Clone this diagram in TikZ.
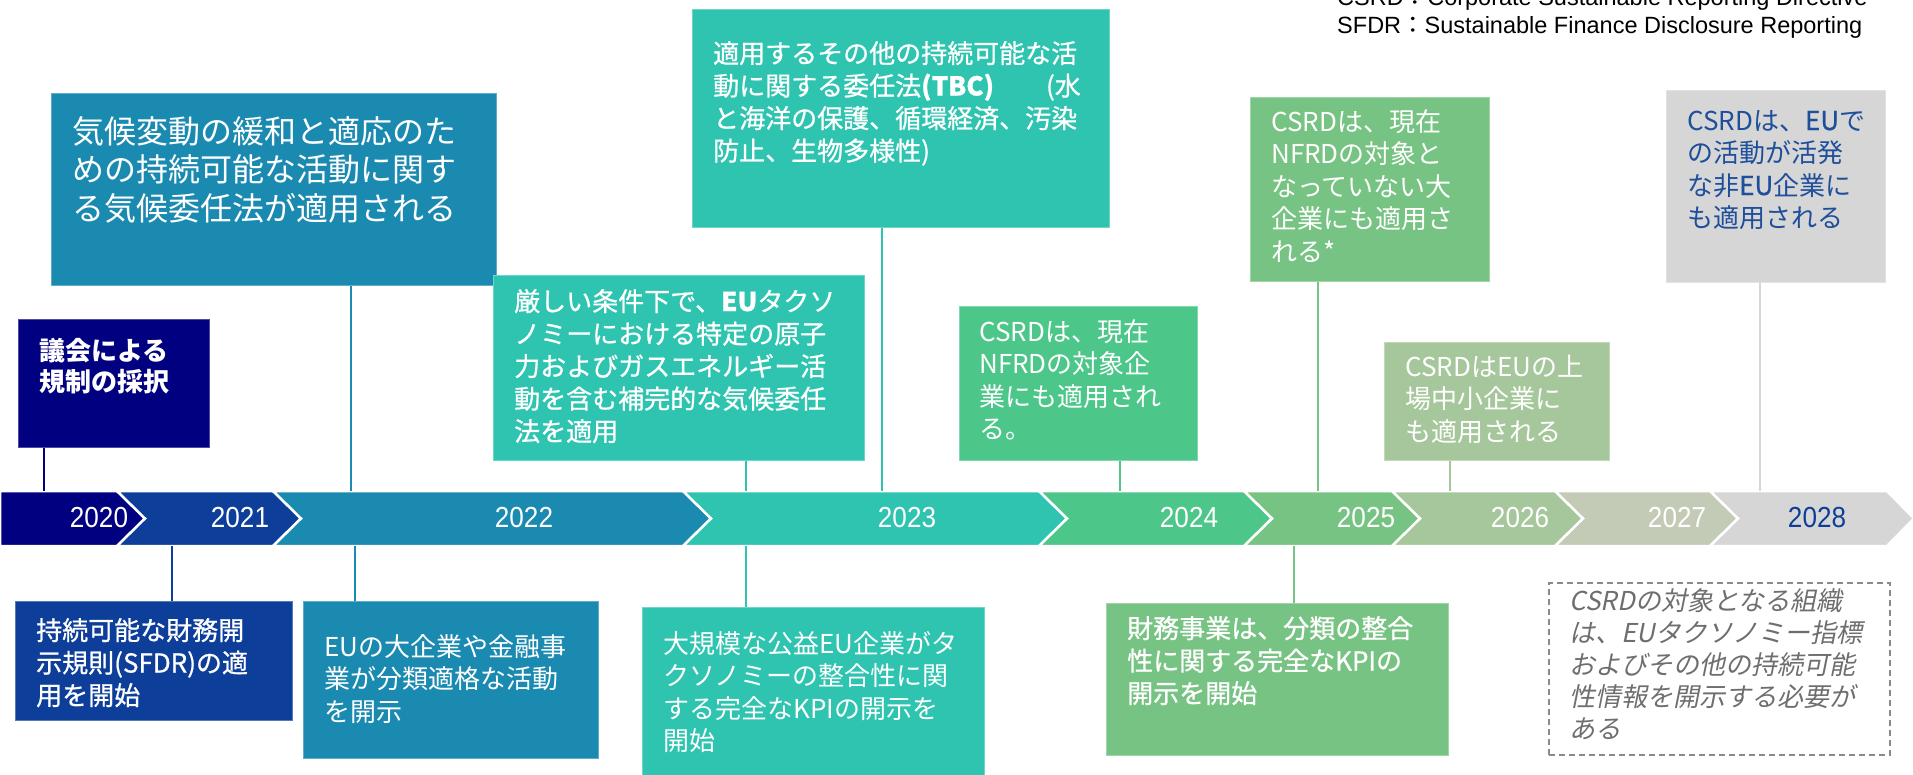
\documentclass[tikz,border=0pt]{standalone}
\usepackage{fontspec}
\setmainfont{Liberation Sans}
\newfontfamily\cjk{Noto Sans CJK JP}
\newfontfamily\cjkmed[FakeBold=0.8]{Noto Sans CJK JP}
\newfontfamily\cjkit[FakeSlant=0.2]{Noto Sans CJK JP}
\newfontfamily\yearfont[FakeStretch=0.9]{Liberation Sans}
\definecolor{cnavy}{HTML}{000080}
\definecolor{cblue}{HTML}{0D3F9A}
\definecolor{cteal}{HTML}{1B8AB0}
\definecolor{cturq}{HTML}{2EC4B0}
\definecolor{cgreen}{HTML}{4DC68A}
\definecolor{cgreenb}{HTML}{77C383}
\definecolor{csage}{HTML}{A6C79B}
\definecolor{cpale}{HTML}{C3CBB7}
\definecolor{cgray}{HTML}{D6D6D6}
\definecolor{cdash}{HTML}{8A8A8A}
\definecolor{citext}{HTML}{6E6E6E}
\definecolor{cmtext}{HTML}{1F4E9A}
\tikzset{
  seg/.style={fill=#1, draw=white, line width=2.5pt, line join=miter},
  box/.style={fill=#1, draw=#1!70!white, line width=1pt, inner sep=0pt, anchor=north west},
  txt/.style={text=white, anchor=base west, inner sep=0pt, text width=420pt, align=left},
  regtxt/.style={txt, font=\cjk\fontsize{26}{32.5}\selectfont},
  medtxt/.style={txt, font=\cjkmed\fontsize{26}{32.5}\selectfont},
  conn/.style={draw=#1, line width=2pt},
  yr/.style={text=white, font=\yearfont\fontsize{29}{29}\selectfont, inner sep=0pt},
  legend/.style={anchor=base west, inner sep=0pt, text=black, font=\fontsize{23.5}{28}\selectfont}
}
\begin{document}
\begin{tikzpicture}[x=1pt,y=-1pt]
\useasboundingbox (0,0) rectangle (1913,774);

% legend
\node[legend] (legcsrd) at (1337,5) {CSRD{\cjk ：}Corporate Sustainable Reporting Directive};
\node[legend] (legsfdr) at (1337,33) {SFDR{\cjk ：}Sustainable Finance Disclosure Reporting};

% timeline bar
\path[seg=cnavy]  (0,491) -- (117,491) -- (145,518.5) -- (117,546) -- (0,546) -- cycle;
\path[seg=cblue]  (117,491) -- (273,491) -- (301,518.5) -- (273,546) -- (117,546) -- (145,518.5) -- cycle;
\path[seg=cteal]  (273,491) -- (683,491) -- (711,518.5) -- (683,546) -- (273,546) -- (301,518.5) -- cycle;
\path[seg=cturq]  (683,491) -- (1039,491) -- (1067,518.5) -- (1039,546) -- (683,546) -- (711,518.5) -- cycle;
\path[seg=cgreen] (1039,491) -- (1244,491) -- (1272,518.5) -- (1244,546) -- (1039,546) -- (1067,518.5) -- cycle;
\path[seg=cgreenb](1244,491) -- (1392,491) -- (1420,518.5) -- (1392,546) -- (1244,546) -- (1272,518.5) -- cycle;
\path[seg=csage]  (1392,491) -- (1555,491) -- (1583,518.5) -- (1555,546) -- (1392,546) -- (1420,518.5) -- cycle;
\path[seg=cpale]  (1555,491) -- (1710,491) -- (1738,518.5) -- (1710,546) -- (1555,546) -- (1583,518.5) -- cycle;
\path[seg=cgray]  (1710,491) -- (1887,491) -- (1914,518.5) -- (1887,546) -- (1710,546) -- (1738,518.5) -- cycle;

\node[yr] (y2020) at (99,518) {2020};
\node[yr] (y2021) at (240,518) {2021};
\node[yr] (y2022) at (524,518) {2022};
\node[yr] (y2023) at (907,518) {2023};
\node[yr] (y2024) at (1189,518) {2024};
\node[yr] (y2025) at (1366,518) {2025};
\node[yr] (y2026) at (1520,518) {2026};
\node[yr] (y2027) at (1677,518) {2027};
\node[yr, text=cblue] (y2028) at (1817,518) {2028};

% attachment points on the bar
\coordinate (tA) at (44,491);
\coordinate (tB) at (351,491);
\coordinate (tC) at (882,491);
\coordinate (tD) at (746,491);
\coordinate (tJ) at (1120,491);
\coordinate (tK) at (1318,491);
\coordinate (tL) at (1450,491);
\coordinate (tM) at (1760,491);
\coordinate (uE) at (172,546);
\coordinate (uF) at (355,546);
\coordinate (uG) at (746,546);
\coordinate (uH) at (1294,546);

% boxes above
\node[box=cteal, minimum width=445pt, minimum height=192pt] (boxB) at (51,93) {};
\node[box=cnavy, minimum width=191pt, minimum height=128pt] (boxA) at (18,319) {};
\node[box=cturq, minimum width=417pt, minimum height=218pt] (boxC) at (692,9) {};
\node[box=cturq, minimum width=371pt, minimum height=185pt] (boxD) at (493,275) {};
\node[box=cgreen, minimum width=238pt, minimum height=154pt] (boxJ) at (959,306) {};
\node[box=cgreenb, minimum width=239pt, minimum height=184pt] (boxK) at (1250,97) {};
\node[box=csage, minimum width=225pt, minimum height=118pt] (boxL) at (1384,342) {};
\node[box=cgray, minimum width=219pt, minimum height=192pt] (boxM) at (1666,90) {};

% boxes below
\node[box=cblue, minimum width=277pt, minimum height=119pt] (boxE) at (15,601) {};
\node[box=cteal, minimum width=295pt, minimum height=157pt] (boxF) at (303,601) {};
\node[box=cturq, minimum width=342pt, minimum height=180pt] (boxG) at (642,607) {};
\node[box=cgreenb, minimum width=342pt, minimum height=152pt] (boxH) at (1106,603) {};
\node[draw=cdash, dash pattern=on 6pt off 4pt, line width=1.8pt, inner sep=0pt, anchor=north west,
      minimum width=341pt, minimum height=172pt] (boxI) at (1548,582) {};

% connectors
\draw[conn=cnavy] (boxA.south -| tA) -- (tA);
\draw[conn=cteal] (boxB.south -| tB) -- (tB);
\draw[conn=cturq] (boxC.south -| tC) -- (tC);
\draw[conn=cturq] (boxD.south -| tD) -- (tD);
\draw[conn=cgreen] (boxJ.south -| tJ) -- (tJ);
\draw[conn=cgreenb] (boxK.south -| tK) -- (tK);
\draw[conn=csage] (boxL.south -| tL) -- (tL);
\draw[conn=cgray] (boxM.south -| tM) -- (tM);
\draw[conn=cblue] (uE) -- (boxE.north -| uE);
\draw[conn=cteal] (uF) -- (boxF.north -| uF);
\draw[conn=cturq] (uG) -- (boxG.north -| uG);
\draw[conn=cgreenb] (uH) -- (boxH.north -| uH);

% texts
\node[txt, font=\cjk\bfseries\fontsize{26}{31}\selectfont] (textA) at (39,360) {議会による\\規制の採択};
\node[txt, font=\cjk\fontsize{32}{38.5}\selectfont] (textB) at (72,143) {気候変動の緩和と適応のた\\めの持続可能な活動に関す\\る気候委任法が適用される};
\node[medtxt] (textC) at (713,63) {適用するその他の持続可能な活\\動に関する委任法{\bfseries(TBC)}\hspace{52pt}(水\\と海洋の保護、循環経済、汚染\\防止、生物多様性)};
\node[medtxt] (textD) at (514,311) {厳しい条件下で、{\bfseries EU}タクソ\\ノミーにおける特定の原子\\力およびガスエネルギー活\\動を含む補完的な気候委任\\法を適用};
\node[regtxt] (textJ) at (979,341) {CSRDは、現在\\NFRDの対象企\\業にも適用され\\る。};
\node[regtxt] (textK) at (1271,131) {CSRDは、現在\\NFRDの対象と\\なっていない大\\企業にも適用さ\\れる*};
\node[regtxt] (textL) at (1405,376) {CSRDはEUの上\\場中小企業に\\も適用される};
\node[regtxt, text=cmtext] (textM) at (1687,130) {CSRDは、{\cjkmed EU}で\\の活動が活発\\な非{\cjkmed EU}企業に\\も適用される};
\node[medtxt] (textE) at (36,640) {持続可能な財務開\\示規則(SFDR)の適\\用を開始};
\node[regtxt] (textF) at (324,656) {EUの大企業や金融事\\業が分類適格な活動\\を開示};
\node[regtxt] (textG) at (663,653) {大規模な公益EU企業がタ\\クソノミーの整合性に関\\する完全なKPIの開示を\\開始};
\node[medtxt] (textH) at (1127,638) {財務事業は、分類の整合\\性に関する完全なKPIの\\開示を開始};
\node[txt, text=citext, font=\cjkit\fontsize{26}{32}\selectfont] (textI) at (1569,610) {CSRDの対象となる組織\\は、EUタクソノミー指標\\およびその他の持続可能\\性情報を開示する必要が\\ある};
\end{tikzpicture}
\end{document}
